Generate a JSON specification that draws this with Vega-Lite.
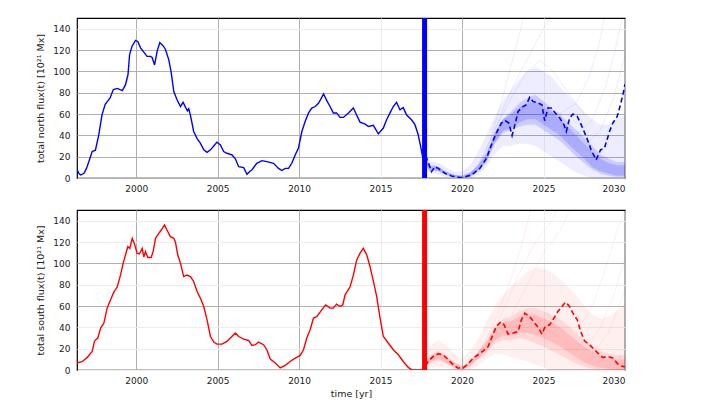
{
  "$schema": "https://vega.github.io/schema/vega-lite/v6.json",
  "padding": {"left": 34, "top": 14, "right": 5, "bottom": 5},
  "spacing": 12,
  "background": "white",
  "config": {
    "font": "DejaVu Sans",
    "view": {"stroke": "black", "strokeWidth": 1.2},
    "axis": {"labelFont": "DejaVu Sans", "titleFont": "DejaVu Sans", "labelFontSize": 9, "titleFontSize": 9.5, "titleFontWeight": "normal", "labelColor": "#222", "titleColor": "#222", "ticks": false, "domain": false, "gridWidth": 1}
  },
  "datasets": {
    "n_obs": [
      {"t":1996.37,"v":8},{"t":1996.5,"v":4},{"t":1996.6,"v":2.8},{"t":1996.8,"v":4.4},{"t":1996.95,"v":9},{"t":1997.1,"v":15.4},{"t":1997.3,"v":24.8},{"t":1997.5,"v":26},{"t":1997.7,"v":40},{"t":1997.9,"v":59},{"t":1998.1,"v":69},{"t":1998.4,"v":75},{"t":1998.6,"v":83},{"t":1998.85,"v":84},{"t":1999.15,"v":82},{"t":1999.35,"v":87.5},{"t":1999.5,"v":97},{"t":1999.6,"v":116},{"t":1999.75,"v":123.6},{"t":1999.96,"v":129},{"t":2000.1,"v":128},{"t":2000.27,"v":122},{"t":2000.47,"v":118},{"t":2000.67,"v":114},{"t":2000.88,"v":114},{"t":2000.98,"v":113},{"t":2001.13,"v":106},{"t":2001.29,"v":119},{"t":2001.45,"v":127},{"t":2001.65,"v":124},{"t":2001.8,"v":120.5},{"t":2002.0,"v":111},{"t":2002.14,"v":100},{"t":2002.31,"v":81},{"t":2002.51,"v":73.4},{"t":2002.72,"v":67},{"t":2002.88,"v":71},{"t":2003.04,"v":66},{"t":2003.15,"v":63},{"t":2003.23,"v":65},{"t":2003.33,"v":59},{"t":2003.53,"v":43.6},{"t":2003.74,"v":37},{"t":2003.94,"v":32.7},{"t":2004.15,"v":26.4},{"t":2004.35,"v":24},{"t":2004.56,"v":26.4},{"t":2004.76,"v":30},{"t":2004.96,"v":33.6},{"t":2005.17,"v":31},{"t":2005.37,"v":24.8},{"t":2005.57,"v":23.2},{"t":2005.88,"v":21.6},{"t":2006.09,"v":18},{"t":2006.29,"v":10.6},{"t":2006.6,"v":9.7},{"t":2006.8,"v":3.5},{"t":2007.0,"v":6.6},{"t":2007.1,"v":7.5},{"t":2007.4,"v":13.8},{"t":2007.72,"v":16.3},{"t":2008.02,"v":15.4},{"t":2008.43,"v":13.8},{"t":2008.74,"v":9},{"t":2008.94,"v":7},{"t":2009.15,"v":9},{"t":2009.35,"v":9},{"t":2009.55,"v":13.8},{"t":2009.76,"v":21.6},{"t":2009.96,"v":28},{"t":2010.17,"v":43.6},{"t":2010.37,"v":53},{"t":2010.58,"v":61},{"t":2010.78,"v":65.6},{"t":2010.99,"v":67},{"t":2011.19,"v":70},{"t":2011.5,"v":78.8},{"t":2011.7,"v":72.5},{"t":2011.9,"v":67},{"t":2012.1,"v":61},{"t":2012.3,"v":61},{"t":2012.52,"v":56.8},{"t":2012.72,"v":56.8},{"t":2013.03,"v":61},{"t":2013.33,"v":65.6},{"t":2013.53,"v":59},{"t":2013.74,"v":52.4},{"t":2014.05,"v":50.5},{"t":2014.25,"v":48.3},{"t":2014.56,"v":49.3},{"t":2014.86,"v":41.4},{"t":2015.17,"v":46.8},{"t":2015.37,"v":54.6},{"t":2015.58,"v":61},{"t":2015.78,"v":67},{"t":2015.98,"v":71},{"t":2016.19,"v":64},{"t":2016.39,"v":66},{"t":2016.6,"v":59},{"t":2016.9,"v":54.6},{"t":2017.11,"v":50},{"t":2017.31,"v":40.5},{"t":2017.48,"v":28},{"t":2017.58,"v":20},{"t":2017.7,"v":17}
    ],
    "n_mean": [
      {"t":2017.7,"v":17},{"t":2017.83,"v":18.5},{"t":2018.13,"v":6},{"t":2018.33,"v":10.6},{"t":2018.54,"v":9},{"t":2018.95,"v":4.4},{"t":2019.35,"v":1.9},{"t":2019.96,"v":0.3},{"t":2020.58,"v":2.8},{"t":2021.09,"v":9},{"t":2021.5,"v":18.5},{"t":2021.8,"v":31},{"t":2022.1,"v":42},{"t":2022.41,"v":51.5},{"t":2022.66,"v":53.7},{"t":2022.87,"v":51.5},{"t":2023.07,"v":39.8},{"t":2023.27,"v":51.5},{"t":2023.44,"v":62.4},{"t":2023.74,"v":67},{"t":2023.95,"v":68.7},{"t":2024.15,"v":75.6},{"t":2024.35,"v":71.8},{"t":2024.66,"v":70.3},{"t":2024.9,"v":68.7},{"t":2025.07,"v":53.7},{"t":2025.27,"v":65.6},{"t":2025.47,"v":65.6},{"t":2025.72,"v":61},{"t":2026.0,"v":56.2},{"t":2026.25,"v":50},{"t":2026.4,"v":43.6},{"t":2026.6,"v":56.2},{"t":2026.8,"v":60},{"t":2027.07,"v":57.7},{"t":2027.31,"v":50},{"t":2027.62,"v":39},{"t":2027.92,"v":26.4},{"t":2028.23,"v":17},{"t":2028.5,"v":26.4},{"t":2028.74,"v":28},{"t":2029.05,"v":43.6},{"t":2029.25,"v":51.5},{"t":2029.52,"v":57.7},{"t":2029.72,"v":68.7},{"t":2029.9,"v":80},{"t":2030,"v":88}
    ],
    "n_band": [
      {"t":2017.7,"lo2":16,"lo1":17,"lo0":16,"hi0":21,"hi1":20,"hi2":24},{"t":2018.0,"lo2":5,"lo1":7,"lo0":6,"hi0":11,"hi1":12,"hi2":16},{"t":2018.3,"lo2":4,"lo1":7,"lo0":7,"hi0":11,"hi1":12,"hi2":15},{"t":2018.6,"lo2":3,"lo1":6,"lo0":6,"hi0":10,"hi1":10,"hi2":14},{"t":2019.0,"lo2":1,"lo1":3,"lo0":3,"hi0":6,"hi1":6,"hi2":10},{"t":2019.5,"lo2":0,"lo1":1,"lo0":1,"hi0":3,"hi1":3,"hi2":6},{"t":2020.0,"lo2":0,"lo1":0,"lo0":0,"hi0":2,"hi1":2,"hi2":6},{"t":2020.5,"lo2":0,"lo1":2,"lo0":1,"hi0":5,"hi1":5,"hi2":12},{"t":2021.0,"lo2":3,"lo1":7,"lo0":6,"hi0":12,"hi1":12,"hi2":25},{"t":2021.5,"lo2":10,"lo1":16,"lo0":15,"hi0":23,"hi1":24,"hi2":40},{"t":2022.0,"lo2":22,"lo1":32,"lo0":33,"hi0":43,"hi1":42,"hi2":58},{"t":2022.5,"lo2":30,"lo1":42,"lo0":44,"hi0":55,"hi1":55,"hi2":72},{"t":2023.0,"lo2":30,"lo1":45,"lo0":47,"hi0":60,"hi1":62,"hi2":82},{"t":2023.5,"lo2":32,"lo1":48,"lo0":52,"hi0":66,"hi1":70,"hi2":92},{"t":2024.0,"lo2":32,"lo1":50,"lo0":55,"hi0":70,"hi1":75,"hi2":100},{"t":2024.5,"lo2":30,"lo1":50,"lo0":55,"hi0":72,"hi1":78,"hi2":104},{"t":2025.0,"lo2":25,"lo1":45,"lo0":50,"hi0":66,"hi1":72,"hi2":100},{"t":2025.5,"lo2":20,"lo1":40,"lo0":45,"hi0":62,"hi1":65,"hi2":95},{"t":2026.0,"lo2":15,"lo1":35,"lo0":40,"hi0":55,"hi1":60,"hi2":85},{"t":2026.5,"lo2":10,"lo1":28,"lo0":32,"hi0":48,"hi1":52,"hi2":78},{"t":2027.0,"lo2":5,"lo1":20,"lo0":25,"hi0":40,"hi1":45,"hi2":70},{"t":2027.5,"lo2":2,"lo1":14,"lo0":18,"hi0":32,"hi1":38,"hi2":62},{"t":2028.0,"lo2":0,"lo1":8,"lo0":10,"hi0":24,"hi1":30,"hi2":55},{"t":2028.5,"lo2":0,"lo1":4,"lo0":6,"hi0":18,"hi1":22,"hi2":50},{"t":2029.0,"lo2":0,"lo1":2,"lo0":4,"hi0":14,"hi1":18,"hi2":50},{"t":2029.5,"lo2":0,"lo1":1,"lo0":2,"hi0":12,"hi1":15,"hi2":55},{"t":2030.0,"lo2":0,"lo1":1,"lo0":2,"hi0":12,"hi1":15,"hi2":60}
    ],
    "n_out": [
      {"id":"A","t":2020.3,"v":2},{"id":"A","t":2021,"v":12},{"id":"A","t":2021.7,"v":35},{"id":"A","t":2022.4,"v":70},{"id":"A","t":2023,"v":105},{"id":"A","t":2023.6,"v":140},{"id":"A","t":2023.9,"v":160},
      {"id":"B","t":2020.5,"v":2},{"id":"B","t":2021.3,"v":20},{"id":"B","t":2022,"v":45},{"id":"B","t":2022.8,"v":75},{"id":"B","t":2023.6,"v":100},{"id":"B","t":2024.3,"v":120},{"id":"B","t":2025,"v":140},{"id":"B","t":2025.6,"v":155},
      {"id":"C","t":2026,"v":60},{"id":"C","t":2027,"v":70},{"id":"C","t":2027.8,"v":95},{"id":"C","t":2028.4,"v":125},{"id":"C","t":2028.8,"v":155},
      {"id":"D","t":2027,"v":40},{"id":"D","t":2028,"v":55},{"id":"D","t":2028.8,"v":85},{"id":"D","t":2029.4,"v":120},{"id":"D","t":2029.9,"v":155},
      {"id":"E","t":2027.5,"v":30},{"id":"E","t":2028.5,"v":45},{"id":"E","t":2029.3,"v":75},{"id":"E","t":2030,"v":115},
      {"id":"F","t":2022,"v":45},{"id":"F","t":2023,"v":75},{"id":"F","t":2024,"v":100},{"id":"F","t":2024.8,"v":110},{"id":"F","t":2025.6,"v":100},{"id":"F","t":2026.5,"v":80},{"id":"F","t":2027.5,"v":60}
    ],
    "s_obs": [
      {"t":1996.37,"v":6.5},{"t":1996.7,"v":8},{"t":1997.0,"v":11.8},{"t":1997.3,"v":17.4},{"t":1997.45,"v":27.4},{"t":1997.65,"v":30},{"t":1997.82,"v":39.3},{"t":1998.02,"v":44},{"t":1998.22,"v":58},{"t":1998.43,"v":65.8},{"t":1998.63,"v":73},{"t":1998.84,"v":78},{"t":1999.04,"v":89},{"t":1999.2,"v":100},{"t":1999.35,"v":108},{"t":1999.49,"v":115.7},{"t":1999.61,"v":114},{"t":1999.76,"v":123.5},{"t":1999.9,"v":118},{"t":2000.06,"v":109.5},{"t":2000.2,"v":108.8},{"t":2000.37,"v":114},{"t":2000.47,"v":106},{"t":2000.57,"v":111},{"t":2000.72,"v":105.4},{"t":2000.92,"v":105.4},{"t":2001.04,"v":111},{"t":2001.19,"v":123.5},{"t":2001.39,"v":128},{"t":2001.53,"v":131},{"t":2001.74,"v":136},{"t":2001.9,"v":131},{"t":2002.1,"v":125},{"t":2002.31,"v":123.5},{"t":2002.41,"v":120},{"t":2002.55,"v":108},{"t":2002.72,"v":100},{"t":2002.92,"v":87.6},{"t":2003.12,"v":89},{"t":2003.33,"v":87.6},{"t":2003.53,"v":83},{"t":2003.74,"v":73.6},{"t":2003.94,"v":67.4},{"t":2004.15,"v":59.5},{"t":2004.35,"v":47},{"t":2004.56,"v":31.4},{"t":2004.76,"v":26.2},{"t":2004.96,"v":24.3},{"t":2005.27,"v":24.3},{"t":2005.57,"v":26.8},{"t":2005.78,"v":30},{"t":2006.09,"v":34.6},{"t":2006.29,"v":31.4},{"t":2006.6,"v":29},{"t":2006.9,"v":27.7},{"t":2007.1,"v":23},{"t":2007.31,"v":23.7},{"t":2007.51,"v":26.2},{"t":2007.82,"v":23.7},{"t":2008.02,"v":19},{"t":2008.23,"v":10.3},{"t":2008.54,"v":6.5},{"t":2008.84,"v":1.9},{"t":2009.15,"v":4.3},{"t":2009.45,"v":8},{"t":2009.76,"v":11.2},{"t":2010.07,"v":13.7},{"t":2010.27,"v":19},{"t":2010.47,"v":30},{"t":2010.68,"v":37.7},{"t":2010.88,"v":48.7},{"t":2011.08,"v":50},{"t":2011.39,"v":56.4},{"t":2011.63,"v":61},{"t":2011.9,"v":58},{"t":2012.1,"v":58},{"t":2012.3,"v":61.8},{"t":2012.52,"v":59.5},{"t":2012.68,"v":61},{"t":2012.82,"v":70.5},{"t":2013.13,"v":78},{"t":2013.33,"v":89},{"t":2013.53,"v":103},{"t":2013.74,"v":109.5},{"t":2013.94,"v":114},{"t":2014.15,"v":108},{"t":2014.35,"v":97},{"t":2014.56,"v":83},{"t":2014.76,"v":69},{"t":2014.97,"v":48.7},{"t":2015.17,"v":31.4},{"t":2015.47,"v":25.3},{"t":2015.78,"v":19},{"t":2016.09,"v":14.3},{"t":2016.39,"v":8},{"t":2016.7,"v":2.4},{"t":2016.9,"v":0.3},{"t":2017.7,"v":0}
    ],
    "s_mean": [
      {"t":2017.75,"v":4},{"t":2017.92,"v":8},{"t":2018.23,"v":12.7},{"t":2018.54,"v":15.2},{"t":2018.84,"v":14.3},{"t":2019.15,"v":9.6},{"t":2019.46,"v":5},{"t":2019.72,"v":1.9},{"t":2020.07,"v":1.9},{"t":2020.37,"v":5.6},{"t":2020.68,"v":11.2},{"t":2020.99,"v":14.3},{"t":2021.3,"v":18},{"t":2021.6,"v":22},{"t":2021.85,"v":31.4},{"t":2022.1,"v":40.8},{"t":2022.38,"v":45},{"t":2022.58,"v":42.4},{"t":2022.82,"v":33.7},{"t":2023.13,"v":34.6},{"t":2023.44,"v":36},{"t":2023.64,"v":47},{"t":2023.85,"v":53.3},{"t":2024.15,"v":50},{"t":2024.46,"v":44},{"t":2024.7,"v":39.3},{"t":2024.9,"v":33.7},{"t":2025.1,"v":40.8},{"t":2025.38,"v":42.4},{"t":2025.64,"v":48.7},{"t":2025.88,"v":54.8},{"t":2026.13,"v":59.5},{"t":2026.36,"v":63.6},{"t":2026.6,"v":59.5},{"t":2026.8,"v":53.3},{"t":2027.07,"v":47},{"t":2027.28,"v":36},{"t":2027.52,"v":27.4},{"t":2027.83,"v":23.7},{"t":2028.13,"v":19},{"t":2028.44,"v":14.3},{"t":2028.64,"v":11.8},{"t":2028.95,"v":12.7},{"t":2029.25,"v":11.2},{"t":2029.56,"v":5.6},{"t":2029.86,"v":3.4},{"t":2030,"v":3}
    ],
    "s_band": [
      {"t":2017.7,"lo2":1,"lo1":3,"lo0":3,"hi0":6,"hi1":7,"hi2":12},{"t":2018.0,"lo2":2,"lo1":6,"lo0":7,"hi0":12,"hi1":13,"hi2":22},{"t":2018.5,"lo2":3,"lo1":9,"lo0":11,"hi0":17,"hi1":18,"hi2":28},{"t":2019.0,"lo2":2,"lo1":6,"lo0":7,"hi0":12,"hi1":14,"hi2":24},{"t":2019.5,"lo2":0,"lo1":2,"lo0":3,"hi0":7,"hi1":8,"hi2":16},{"t":2020.0,"lo2":0,"lo1":0,"lo0":0,"hi0":3,"hi1":4,"hi2":10},{"t":2020.5,"lo2":0,"lo1":3,"lo0":4,"hi0":8,"hi1":9,"hi2":18},{"t":2021.0,"lo2":5,"lo1":10,"lo0":11,"hi0":17,"hi1":18,"hi2":30},{"t":2021.5,"lo2":10,"lo1":16,"lo0":18,"hi0":26,"hi1":28,"hi2":45},{"t":2022.0,"lo2":15,"lo1":25,"lo0":28,"hi0":38,"hi1":40,"hi2":60},{"t":2022.5,"lo2":15,"lo1":28,"lo0":32,"hi0":45,"hi1":48,"hi2":70},{"t":2023.0,"lo2":12,"lo1":28,"lo0":32,"hi0":46,"hi1":50,"hi2":78},{"t":2023.5,"lo2":10,"lo1":30,"lo0":35,"hi0":50,"hi1":55,"hi2":85},{"t":2024.0,"lo2":8,"lo1":28,"lo0":35,"hi0":52,"hi1":58,"hi2":92},{"t":2024.5,"lo2":5,"lo1":25,"lo0":33,"hi0":52,"hi1":58,"hi2":96},{"t":2025.0,"lo2":3,"lo1":22,"lo0":30,"hi0":48,"hi1":55,"hi2":95},{"t":2025.5,"lo2":0,"lo1":18,"lo0":26,"hi0":45,"hi1":52,"hi2":92},{"t":2026.0,"lo2":0,"lo1":14,"lo0":22,"hi0":40,"hi1":48,"hi2":85},{"t":2026.5,"lo2":0,"lo1":10,"lo0":17,"hi0":34,"hi1":42,"hi2":78},{"t":2027.0,"lo2":0,"lo1":6,"lo0":12,"hi0":28,"hi1":35,"hi2":70},{"t":2027.5,"lo2":0,"lo1":3,"lo0":7,"hi0":22,"hi1":28,"hi2":60},{"t":2028.0,"lo2":0,"lo1":1,"lo0":4,"hi0":17,"hi1":22,"hi2":52},{"t":2028.5,"lo2":0,"lo1":0,"lo0":2,"hi0":13,"hi1":18,"hi2":48},{"t":2029.0,"lo2":0,"lo1":0,"lo0":1,"hi0":11,"hi1":15,"hi2":50},{"t":2029.5,"lo2":0,"lo1":0,"lo0":0,"hi0":10,"hi1":14,"hi2":55},{"t":2030.0,"lo2":0,"lo1":0,"lo0":0,"hi0":10,"hi1":14,"hi2":62}
    ],
    "s_out": [
      {"id":"A","t":2021,"v":15},{"id":"A","t":2022,"v":45},{"id":"A","t":2023,"v":85},{"id":"A","t":2023.8,"v":125},{"id":"A","t":2024.3,"v":155},
      {"id":"B","t":2021.5,"v":25},{"id":"B","t":2022.5,"v":55},{"id":"B","t":2023.5,"v":90},{"id":"B","t":2024.5,"v":120},{"id":"B","t":2025.5,"v":140},{"id":"B","t":2026,"v":155},
      {"id":"C","t":2023,"v":50},{"id":"C","t":2024,"v":80},{"id":"C","t":2025,"v":110},{"id":"C","t":2026,"v":130},{"id":"C","t":2026.8,"v":155},
      {"id":"D","t":2027,"v":35},{"id":"D","t":2028,"v":60},{"id":"D","t":2028.8,"v":95},{"id":"D","t":2029.5,"v":130},{"id":"D","t":2030,"v":150},
      {"id":"E","t":2027.5,"v":20},{"id":"E","t":2028.5,"v":40},{"id":"E","t":2029.3,"v":70},{"id":"E","t":2030,"v":105},
      {"id":"F","t":2028,"v":15},{"id":"F","t":2029,"v":35},{"id":"F","t":2030,"v":75}
    ],
    "cut": [{"t": 2017.7}]
  },
  "vconcat": [
    {
      "width": 548,
      "height": 160,
      "encoding": {
        "x": {"field": "t", "type": "quantitative", "scale": {"domain": [1996.37, 2030], "nice": false, "zero": false},
              "axis": {"title": null, "values": [2000, 2005, 2010, 2015, 2020, 2025, 2030], "format": "d", "labelPadding": 6,
                       "gridColor": {"condition": {"test": "datum.value == 2015 || datum.value == 2025", "value": "#ededed"}, "value": "#b0b0b0"}}}
      },
      "layer": [
        {"data": {"name": "n_band"}, "mark": {"type": "area", "color": "#0000ff", "opacity": 0.07, "clip": true},
         "encoding": {"y": {"field": "lo2", "type": "quantitative", "scale": {"domain": [0, 150], "nice": false},
                            "axis": {"title": "total north flux(t) [10²¹ Mx]", "values": [0, 20, 40, 60, 80, 100, 120, 140], "labelPadding": 7, "minExtent": 26, "maxExtent": 26, "titlePadding": 6,
                                     "gridColor": {"condition": {"test": "datum.value == 140", "value": "#ededed"}, "value": "#b0b0b0"}}},
                      "y2": {"field": "hi2"}}},
        {"data": {"name": "n_band"}, "mark": {"type": "area", "color": "#0000ff", "opacity": 0.14, "clip": true},
         "encoding": {"y": {"field": "lo1", "type": "quantitative",
                            "axis": {"title": "total north flux(t) [10²¹ Mx]", "values": [0, 20, 40, 60, 80, 100, 120, 140], "labelPadding": 7, "minExtent": 26, "maxExtent": 26, "titlePadding": 6,
                                     "gridColor": {"condition": {"test": "datum.value == 140", "value": "#ededed"}, "value": "#b0b0b0"}}},
                      "y2": {"field": "hi1"}}},
        {"data": {"name": "n_band"}, "mark": {"type": "area", "color": "#0000ff", "opacity": 0.15, "clip": true},
         "encoding": {"y": {"field": "lo0", "type": "quantitative",
                            "axis": {"title": "total north flux(t) [10²¹ Mx]", "values": [0, 20, 40, 60, 80, 100, 120, 140], "labelPadding": 7, "minExtent": 26, "maxExtent": 26, "titlePadding": 6,
                                     "gridColor": {"condition": {"test": "datum.value == 140", "value": "#ededed"}, "value": "#b0b0b0"}}},
                      "y2": {"field": "hi0"}}},
        {"data": {"name": "n_out"}, "mark": {"type": "line", "color": "#0000ff", "opacity": 0.08, "strokeWidth": 1, "clip": true},
         "encoding": {"y": {"field": "v", "type": "quantitative",
                            "axis": {"title": "total north flux(t) [10²¹ Mx]", "values": [0, 20, 40, 60, 80, 100, 120, 140], "labelPadding": 7, "minExtent": 26, "maxExtent": 26, "titlePadding": 6,
                                     "gridColor": {"condition": {"test": "datum.value == 140", "value": "#ededed"}, "value": "#b0b0b0"}}},
                      "detail": {"field": "id"}}},
        {"data": {"name": "n_obs"}, "mark": {"type": "line", "color": "#0000ff", "strokeWidth": 1.4, "clip": true},
         "encoding": {"y": {"field": "v", "type": "quantitative",
                            "axis": {"title": "total north flux(t) [10²¹ Mx]", "values": [0, 20, 40, 60, 80, 100, 120, 140], "labelPadding": 7, "minExtent": 26, "maxExtent": 26, "titlePadding": 6,
                                     "gridColor": {"condition": {"test": "datum.value == 140", "value": "#ededed"}, "value": "#b0b0b0"}}}}},
        {"data": {"name": "n_mean"}, "mark": {"type": "line", "color": "#0000ff", "strokeWidth": 1.6, "strokeDash": [5, 3], "clip": true},
         "encoding": {"y": {"field": "v", "type": "quantitative",
                            "axis": {"title": "total north flux(t) [10²¹ Mx]", "values": [0, 20, 40, 60, 80, 100, 120, 140], "labelPadding": 7, "minExtent": 26, "maxExtent": 26, "titlePadding": 6,
                                     "gridColor": {"condition": {"test": "datum.value == 140", "value": "#ededed"}, "value": "#b0b0b0"}}}}},
        {"data": {"name": "cut"}, "mark": {"type": "rule", "color": "#0000ff", "strokeWidth": 5}, "encoding": {}}
      ]
    },
    {
      "width": 548,
      "height": 160,
      "encoding": {
        "x": {"field": "t", "type": "quantitative", "scale": {"domain": [1996.37, 2030], "nice": false, "zero": false},
              "axis": {"title": "time [yr]", "titlePadding": 3, "values": [2000, 2005, 2010, 2015, 2020, 2025, 2030], "format": "d", "labelPadding": 6,
                       "gridColor": {"condition": {"test": "datum.value == 2015 || datum.value == 2025", "value": "#ededed"}, "value": "#b0b0b0"}}}
      },
      "layer": [
        {"data": {"name": "s_band"}, "mark": {"type": "area", "color": "#ff0000", "opacity": 0.06, "clip": true},
         "encoding": {"y": {"field": "lo2", "type": "quantitative", "scale": {"domain": [0, 150], "nice": false},
                            "axis": {"title": "total south flux(t) [10²¹ Mx]", "values": [0, 20, 40, 60, 80, 100, 120, 140], "labelPadding": 7, "minExtent": 26, "maxExtent": 26, "titlePadding": 6,
                                     "gridColor": {"condition": {"test": "datum.value == 60 || datum.value == 100", "value": "#b0b0b0"}, "value": "#ededed"}}},
                      "y2": {"field": "hi2"}}},
        {"data": {"name": "s_band"}, "mark": {"type": "area", "color": "#ff0000", "opacity": 0.1, "clip": true},
         "encoding": {"y": {"field": "lo1", "type": "quantitative",
                            "axis": {"title": "total south flux(t) [10²¹ Mx]", "values": [0, 20, 40, 60, 80, 100, 120, 140], "labelPadding": 7, "minExtent": 26, "maxExtent": 26, "titlePadding": 6,
                                     "gridColor": {"condition": {"test": "datum.value == 60 || datum.value == 100", "value": "#b0b0b0"}, "value": "#ededed"}}},
                      "y2": {"field": "hi1"}}},
        {"data": {"name": "s_band"}, "mark": {"type": "area", "color": "#ff0000", "opacity": 0.12, "clip": true},
         "encoding": {"y": {"field": "lo0", "type": "quantitative",
                            "axis": {"title": "total south flux(t) [10²¹ Mx]", "values": [0, 20, 40, 60, 80, 100, 120, 140], "labelPadding": 7, "minExtent": 26, "maxExtent": 26, "titlePadding": 6,
                                     "gridColor": {"condition": {"test": "datum.value == 60 || datum.value == 100", "value": "#b0b0b0"}, "value": "#ededed"}}},
                      "y2": {"field": "hi0"}}},
        {"data": {"name": "s_out"}, "mark": {"type": "line", "color": "#ff0000", "opacity": 0.07, "strokeWidth": 1, "clip": true},
         "encoding": {"y": {"field": "v", "type": "quantitative",
                            "axis": {"title": "total south flux(t) [10²¹ Mx]", "values": [0, 20, 40, 60, 80, 100, 120, 140], "labelPadding": 7, "minExtent": 26, "maxExtent": 26, "titlePadding": 6,
                                     "gridColor": {"condition": {"test": "datum.value == 60 || datum.value == 100", "value": "#b0b0b0"}, "value": "#ededed"}}},
                      "detail": {"field": "id"}}},
        {"data": {"name": "s_obs"}, "mark": {"type": "line", "color": "#ff0000", "strokeWidth": 1.4, "clip": true},
         "encoding": {"y": {"field": "v", "type": "quantitative",
                            "axis": {"title": "total south flux(t) [10²¹ Mx]", "values": [0, 20, 40, 60, 80, 100, 120, 140], "labelPadding": 7, "minExtent": 26, "maxExtent": 26, "titlePadding": 6,
                                     "gridColor": {"condition": {"test": "datum.value == 60 || datum.value == 100", "value": "#b0b0b0"}, "value": "#ededed"}}}}},
        {"data": {"name": "s_mean"}, "mark": {"type": "line", "color": "#ff0000", "strokeWidth": 1.6, "strokeDash": [5, 3], "clip": true},
         "encoding": {"y": {"field": "v", "type": "quantitative",
                            "axis": {"title": "total south flux(t) [10²¹ Mx]", "values": [0, 20, 40, 60, 80, 100, 120, 140], "labelPadding": 7, "minExtent": 26, "maxExtent": 26, "titlePadding": 6,
                                     "gridColor": {"condition": {"test": "datum.value == 60 || datum.value == 100", "value": "#b0b0b0"}, "value": "#ededed"}}}}},
        {"data": {"name": "cut"}, "mark": {"type": "rule", "color": "#ff0000", "strokeWidth": 5}, "encoding": {}}
      ]
    }
  ]
}
